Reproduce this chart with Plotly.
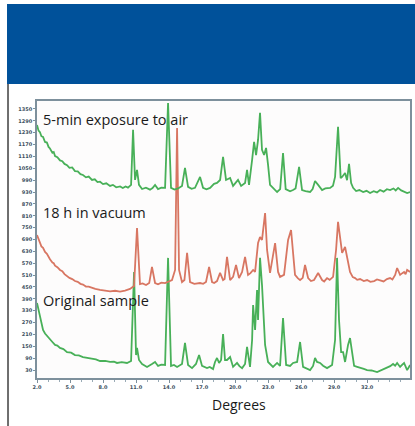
import plotly.graph_objects as go

# ---- data (2-theta in degrees, intensity in axis counts) ----
air = [(2.0, 1269), (2.14, 1240), (2.27, 1232), (2.4, 1212), (2.55, 1208), (2.73, 1183), (2.9, 1180),
       (3.05, 1158), (3.18, 1150), (3.4, 1128), (3.52, 1132), (3.64, 1112), (3.85, 1106), (4.0, 1096),
       (4.09, 1090), (4.3, 1086), (4.5, 1072), (4.73, 1066), (4.95, 1052), (5.2, 1054), (5.45, 1036),
       (5.7, 1034), (5.95, 1020), (6.18, 1016), (6.45, 1004), (6.7, 1008), (7.0, 991), (7.25, 994),
       (7.5, 980), (7.73, 982), (8.0, 970), (8.3, 974), (8.64, 961), (8.9, 966), (9.2, 954), (9.55, 958),
       (9.8, 950), (10.05, 958), (10.27, 952), (10.55, 966), (10.73, 1244), (10.91, 991), (11.09, 1042),
       (11.27, 966), (11.55, 945), (11.9, 952), (12.27, 942), (12.5, 950), (12.73, 966), (13.0, 945),
       (13.3, 952), (13.64, 951), (13.91, 1380), (14.18, 951), (14.5, 942), (14.82, 948), (15.18, 961),
       (15.45, 1052), (15.73, 956), (16.05, 946), (16.36, 951), (16.82, 1006), (17.09, 951),
       (17.4, 944), (17.73, 951), (18.09, 971), (18.36, 976), (18.64, 991), (18.91, 1107), (19.18, 991),
       (19.55, 1001), (19.82, 961), (20.05, 975), (20.27, 991), (20.55, 961), (20.91, 976), (21.09, 1042),
       (21.27, 966), (21.55, 1092), (21.73, 1183), (21.91, 1117), (22.09, 1193), (22.27, 1330),
       (22.45, 1143), (22.64, 1117), (22.82, 1153), (23.0, 1067), (23.18, 966), (23.45, 951),
       (23.65, 940), (23.82, 930), (24.1, 945), (24.36, 1127), (24.6, 945), (24.73, 940), (25.0, 934),
       (25.27, 940), (25.5, 948), (25.82, 1057), (26.09, 940), (26.4, 934), (26.82, 930), (27.05, 945),
       (27.27, 986), (27.55, 966), (27.91, 940), (28.2, 948), (28.64, 951), (28.9, 962), (29.09, 1006),
       (29.36, 1259), (29.6, 1000), (29.73, 1006), (30.0, 1026), (30.18, 990), (30.36, 1072),
       (30.55, 975), (30.73, 951), (31.0, 935), (31.3, 940), (31.64, 930), (31.95, 936), (32.27, 925),
       (32.6, 934), (32.9, 928), (33.18, 940), (33.5, 932), (33.8, 944), (34.09, 940), (34.4, 948),
       (34.6, 938), (34.82, 951), (35.1, 938), (35.4, 932), (35.64, 925), (35.91, 930)]

vac = [(2.0, 713), (2.14, 690), (2.27, 676), (2.4, 655), (2.55, 648), (2.73, 627), (2.9, 618),
       (3.05, 598), (3.18, 590), (3.4, 574), (3.52, 570), (3.64, 558), (3.85, 550), (4.09, 536),
       (4.3, 530), (4.5, 515), (4.73, 504), (4.95, 496), (5.2, 490), (5.45, 480), (5.7, 476),
       (5.95, 466), (6.18, 462), (6.45, 452), (6.7, 452), (7.0, 445), (7.3, 440), (7.73, 435),
       (8.1, 433), (8.64, 428), (9.1, 431), (9.55, 427), (10.0, 432), (10.45, 440), (10.82, 455),
       (11.09, 748), (11.36, 465), (11.6, 468), (11.91, 460), (12.2, 470), (12.45, 551), (12.73, 470),
       (13.0, 464), (13.3, 472), (13.64, 470), (13.95, 478), (14.27, 485), (14.55, 536), (14.73, 1254),
       (14.91, 536), (15.18, 475), (15.4, 485), (15.64, 622), (15.91, 475), (16.3, 466), (16.82, 470),
       (17.1, 466), (17.36, 475), (17.64, 551), (17.91, 475), (18.1, 470), (18.36, 480), (18.64, 521),
       (18.91, 485), (19.05, 490), (19.27, 602), (19.55, 485), (19.82, 501), (20.09, 561), (20.36, 495),
       (20.64, 526), (20.91, 602), (21.18, 511), (21.4, 520), (21.64, 536), (21.82, 526), (22.09, 672),
       (22.27, 703), (22.45, 688), (22.73, 824), (22.91, 637), (23.18, 521), (23.64, 672), (23.91, 526),
       (24.09, 501), (24.45, 511), (24.82, 688), (25.09, 738), (25.27, 612), (25.45, 511), (25.7, 495),
       (25.91, 485), (26.15, 496), (26.36, 561), (26.64, 495), (26.9, 480), (27.18, 485), (27.35, 500),
       (27.55, 521), (27.91, 485), (28.1, 478), (28.36, 495), (28.6, 486), (28.91, 501), (29.18, 637),
       (29.36, 779), (29.55, 688), (29.73, 622), (30.0, 652), (30.27, 576), (30.45, 526), (30.7, 500),
       (30.91, 495), (31.1, 486), (31.36, 490), (31.7, 480), (32.0, 485), (32.3, 476), (32.64, 480),
       (32.9, 488), (33.18, 485), (33.5, 478), (33.8, 490), (34.09, 495), (34.3, 488), (34.55, 511),
       (34.73, 546), (35.0, 511), (35.2, 520), (35.36, 526), (35.5, 515), (35.64, 536), (35.91, 526)]

orig = [(2.0, 369), (2.14, 330), (2.27, 293), (2.4, 262), (2.55, 233), (2.73, 215), (2.91, 202),
        (3.05, 196), (3.18, 182), (3.4, 172), (3.64, 157), (3.85, 154), (4.09, 142), (4.4, 136),
        (4.73, 121), (5.1, 118), (5.45, 106), (5.8, 104), (6.18, 96), (6.6, 92), (7.0, 86),
        (7.35, 84), (7.73, 76), (8.2, 76), (8.64, 71), (9.0, 72), (9.27, 66), (9.7, 70), (10.18, 66),
        (10.55, 76), (10.82, 526), (11.0, 106), (11.09, 142), (11.27, 81), (11.55, 61), (12.0, 46),
        (12.45, 61), (12.73, 71), (13.0, 51), (13.3, 58), (13.64, 56), (13.91, 597), (14.18, 51),
        (14.45, 56), (14.73, 46), (15.18, 61), (15.45, 167), (15.73, 56), (16.09, 40), (16.45, 61),
        (16.73, 106), (17.0, 51), (17.45, 40), (17.7, 46), (18.0, 35), (18.18, 71), (18.36, 91),
        (18.55, 66), (18.73, 81), (18.91, 212), (19.09, 81), (19.27, 81), (19.55, 96), (19.82, 46),
        (20.18, 66), (20.4, 50), (20.64, 40), (20.91, 61), (21.09, 147), (21.36, 46), (21.55, 182),
        (21.64, 359), (21.82, 233), (22.0, 435), (22.09, 283), (22.27, 597), (22.45, 460), (22.64, 233),
        (22.73, 157), (23.0, 71), (23.2, 60), (23.45, 46), (23.82, 66), (24.09, 51), (24.36, 293),
        (24.64, 56), (25.0, 51), (25.27, 66), (25.64, 71), (25.91, 172), (26.18, 46), (26.5, 40),
        (26.82, 30), (27.09, 51), (27.27, 91), (27.45, 71), (27.73, 66), (28.0, 52), (28.36, 40),
        (28.82, 56), (29.09, 182), (29.27, 597), (29.45, 283), (29.64, 121), (29.82, 121), (30.0, 71),
        (30.27, 157), (30.45, 192), (30.64, 106), (30.82, 51), (31.1, 46), (31.36, 40), (31.7, 36),
        (32.0, 30), (32.4, 28), (32.91, 20), (33.3, 30), (33.82, 40), (34.1, 50), (34.36, 61),
        (34.55, 52), (34.73, 66), (35.0, 46), (35.2, 58), (35.36, 66), (35.64, 30), (35.91, 56)]

air_x = [p[0] for p in air]
air_y = [p[1] for p in air]
vac_x = [p[0] for p in vac]
vac_y = [p[1] for p in vac]
orig_x = [p[0] for p in orig]
orig_y = [p[1] for p in orig]

x_tick_vals = [2, 5, 8, 11, 14, 17, 20, 23, 26, 29, 32]
x_tick_text = ["2.0", "5.0", "8.0", "11.0", "14.0", "17.0", "20.0", "23.0", "26.0", "29.0", "32.0"]
y_tick_vals = [30, 90, 150, 210, 270, 330, 390, 450, 510, 570, 630, 690, 750, 810, 870, 930,
               990, 1050, 1110, 1170, 1230, 1290, 1350]
labels = ["5-min exposure to air", "18 h in vacuum", "Original sample"]
label_y = [1299, 824, 384]

GREEN = "rgb(72,176,88)"
RED = "rgb(216,118,98)"

fig = go.Figure()
fig.add_trace(go.Scatter(x=orig_x, y=orig_y, mode="lines", line=dict(color=GREEN, width=1.8)))
fig.add_trace(go.Scatter(x=vac_x, y=vac_y, mode="lines", line=dict(color=RED, width=1.8)))
fig.add_trace(go.Scatter(x=air_x, y=air_y, mode="lines", line=dict(color=GREEN, width=1.8)))

for t, yv in zip(labels, label_y):
    fig.add_annotation(x=2.35, y=yv, xref="x", yref="y", text=t, showarrow=False,
                       xanchor="left", yanchor="middle",
                       font=dict(family="Open Sans", size=14.5, color="#1a1a1a"))

fig.add_annotation(x=0.5416, y=-0.094, xref="paper", yref="paper", text="Degrees",
                   showarrow=False, xanchor="center", yanchor="middle",
                   font=dict(family="Open Sans", size=14, color="#1a1a1a"))

# header band and page rule
fig.add_shape(type="rect", xref="paper", yref="paper", x0=-0.0804, x1=1.02, y0=1.0614, y1=1.3502,
              fillcolor="#00519a", line=dict(width=0), layer="below")
fig.add_shape(type="line", xref="paper", yref="paper", x0=-0.0777, x1=-0.0777, y0=1.0614, y1=-0.18,
              line=dict(color="#6e6e6e", width=2))

tickfont = dict(family="DejaVu Sans", size=5, color="#3d4f5e", weight="bold")
fig.update_xaxes(range=[2, 35.9], tickvals=x_tick_vals, ticktext=x_tick_text, tickfont=tickfont,
                 automargin=False,
                 showgrid=False, zeroline=False, showline=True, linecolor="#7d909c", linewidth=1.5,
                 mirror=True, ticks="outside", ticklen=3, tickcolor="#7d909c",
                 minor=dict(dtick=1, ticks="outside", ticklen=2, tickcolor="#9aabb6"))
fig.update_yaxes(range=[-10, 1390], tickvals=y_tick_vals, tickfont=tickfont, automargin=False,
                 showgrid=False, zeroline=False, showline=True, linecolor="#7d909c", linewidth=1.5,
                 mirror=True, ticks="outside", ticklen=2, tickcolor="#7d909c")

fig.update_layout(width=415, height=426, margin=dict(l=37, r=5, t=101, b=48),
                  paper_bgcolor="white", plot_bgcolor="#fdfcfc", showlegend=False)

fig.write_html("out.html", config={"displayModeBar": False},
               post_script="document.body.style.margin='0';document.body.style.overflow='hidden';")
